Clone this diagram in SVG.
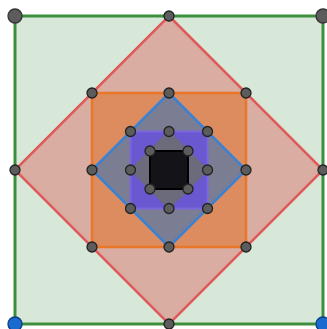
<svg xmlns="http://www.w3.org/2000/svg" width="327" height="329" viewBox="0 0 327 329">
<style>
.pt{fill:#5c5c5c;stroke:#222;stroke-width:1.3}
.big{fill:#5c5c5c;stroke:#333;stroke-width:1.3}
.blue{fill:#1a6ad0;stroke:#0d3f80;stroke-width:1.3}
</style>
<rect width="327" height="329" fill="#ffffff"/>
<g id="connectors">
<polygon id="sq1" points="15,16 323,16 323,324 15,324" fill="#d8e8d8" stroke="#3d8f3d" stroke-width="3"/>
<polygon id="dia1" points="169,16 323,170 169,324 15,170" fill="#d9ada2" stroke="#e05a5a" stroke-width="2.5"/>
<polygon id="sq2" points="92,93 246,93 246,247 92,247" fill="#dc8c5e" stroke="#e8772a" stroke-width="2.5"/>
<polygon id="dia2" points="169,93 246,170 169,247 92,170" fill="#7b7d93" stroke="#3a82d6" stroke-width="2.5"/>
<polygon id="sq3" points="130.5,131.5 207.5,131.5 207.5,208.5 130.5,208.5" fill="#6a58d0" stroke="#7a66e0" stroke-width="2"/>
<polygon id="dia3" points="169,131.5 207.5,170 169,208.5 130.5,170" fill="#6b6b7c" stroke="#6b6b7c" stroke-width="1.5"/>
<polygon id="sq4" points="150,151 188,151 188,189 150,189" fill="#141418" stroke="#000" stroke-width="2"/>
</g>
<g id="points">
<circle class="big" cx="15" cy="16" r="7"/>
<circle class="big" cx="323" cy="16" r="7"/>
<circle class="blue" cx="323" cy="324" r="7"/>
<circle class="blue" cx="15" cy="324" r="7"/>
<circle class="pt" cx="169" cy="16" r="5"/>
<circle class="pt" cx="323" cy="170" r="5"/>
<circle class="pt" cx="169" cy="324" r="5"/>
<circle class="pt" cx="15" cy="170" r="5"/>
<circle class="pt" cx="92" cy="93" r="5"/>
<circle class="pt" cx="246" cy="93" r="5"/>
<circle class="pt" cx="246" cy="247" r="5"/>
<circle class="pt" cx="92" cy="247" r="5"/>
<circle class="pt" cx="169" cy="93" r="5"/>
<circle class="pt" cx="246" cy="170" r="5"/>
<circle class="pt" cx="169" cy="247" r="5"/>
<circle class="pt" cx="92" cy="170" r="5"/>
<circle class="pt" cx="130.5" cy="131.5" r="5"/>
<circle class="pt" cx="207.5" cy="131.5" r="5"/>
<circle class="pt" cx="207.5" cy="208.5" r="5"/>
<circle class="pt" cx="130.5" cy="208.5" r="5"/>
<circle class="pt" cx="169" cy="131.5" r="5"/>
<circle class="pt" cx="207.5" cy="170" r="5"/>
<circle class="pt" cx="169" cy="208.5" r="5"/>
<circle class="pt" cx="130.5" cy="170" r="5"/>
<circle class="pt" cx="150" cy="151" r="5"/>
<circle class="pt" cx="188" cy="151" r="5"/>
<circle class="pt" cx="188" cy="189" r="5"/>
<circle class="pt" cx="150" cy="189" r="5"/>
</g>
</svg>
